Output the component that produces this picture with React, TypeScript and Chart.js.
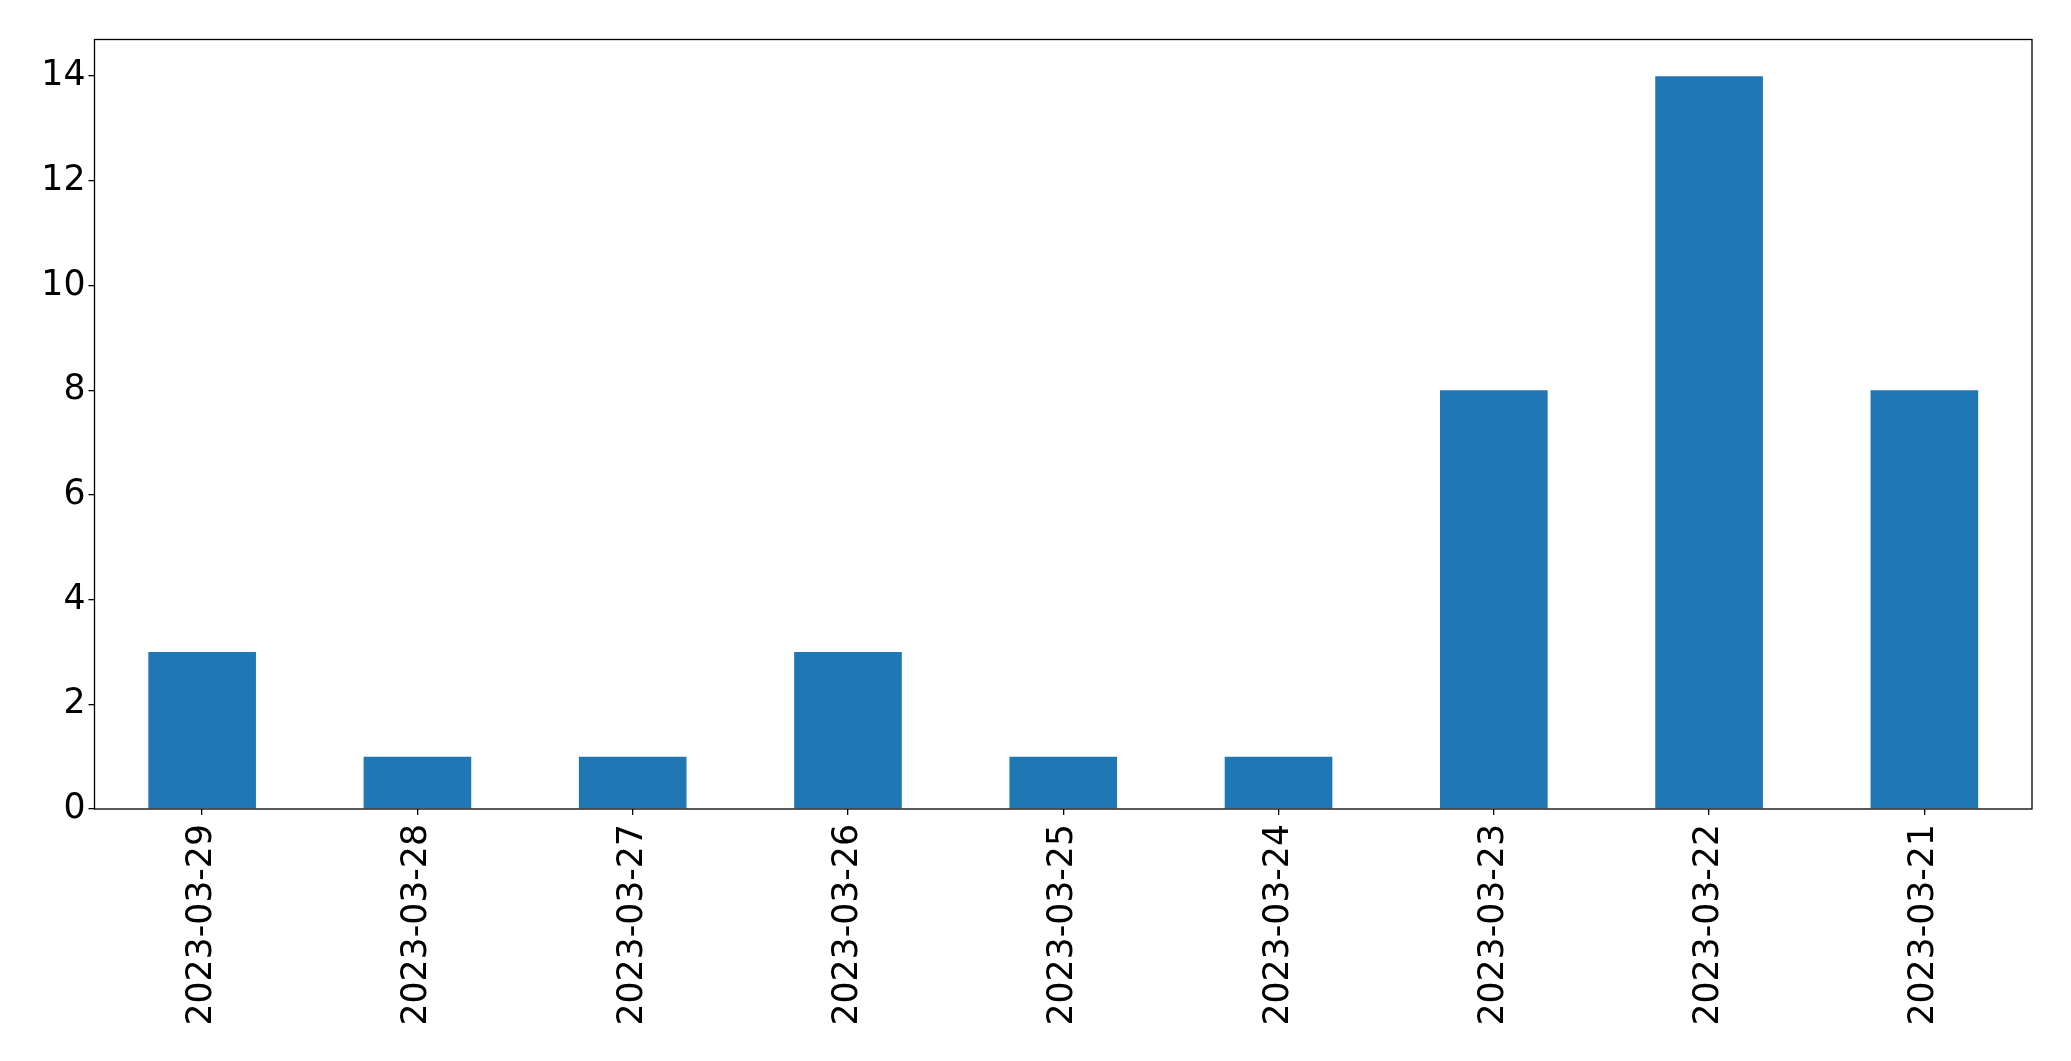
import React, { useEffect, useRef } from "react";
import { Chart, registerables } from "chart.js";

Chart.register(...registerables);

const categories = [
  "2023-03-29",
  "2023-03-28",
  "2023-03-27",
  "2023-03-26",
  "2023-03-25",
  "2023-03-24",
  "2023-03-23",
  "2023-03-22",
  "2023-03-21",
];
const counts = [3, 1, 1, 3, 1, 1, 8, 14, 8];
const yMax = 14.7;
const yStep = 2;

const W = 2071;
const H = 1061;

const framePlugin = {
  id: "frame",
  afterDraw(chart: any) {
    const { ctx, chartArea } = chart;
    ctx.save();
    ctx.strokeStyle = "#000";
    ctx.lineWidth = 1.3;
    ctx.strokeRect(chartArea.left, chartArea.top, chartArea.right - chartArea.left, chartArea.bottom - chartArea.top);
    ctx.restore();
  },
};

export default function App() {
  const ref = useRef<HTMLCanvasElement | null>(null);
  useEffect(() => {
    if (!ref.current) return;
    const font = { family: "DejaVu Sans", size: 34.7 };
    const chart = new Chart(ref.current, {
      type: "bar",
      data: {
        labels: categories,
        datasets: [
          {
            data: counts,
            backgroundColor: "#1f77b4",
            borderWidth: 0,
            barPercentage: 0.5,
            categoryPercentage: 1,
          },
        ],
      },
      plugins: [framePlugin],
      options: {
        animation: false,
        responsive: false,
        devicePixelRatio: 1,
        layout: { padding: { left: 0, top: 39.5, right: 39, bottom: 0 } },
        plugins: { legend: { display: false }, tooltip: { enabled: false } },
        scales: {
          x: {
            type: "category",
            offset: true,
            grid: { offset: false, drawOnChartArea: false, drawTicks: true, tickLength: 6, color: "#000", lineWidth: 1.3 },
            border: { display: false },
            ticks: { font, color: "#000", maxRotation: 90, minRotation: 90, padding: 9, autoSkip: false },
            afterFit: (s: any) => {
              s.height = H - 809;
            },
          },
          y: {
            min: 0,
            max: yMax,
            grid: { drawOnChartArea: false, drawTicks: true, tickLength: 6, color: "#000", lineWidth: 1.3 },
            border: { display: false },
            ticks: { font, color: "#000", stepSize: yStep, includeBounds: false, padding: 3 },
            afterFit: (s: any) => {
              s.width = 94.5;
            },
          },
        },
      },
    });
    return () => chart.destroy();
  }, []);
  return (
    <div style={{ position: "fixed", left: 0, top: 0, width: W, height: H, background: "#fff" }}>
      <canvas ref={ref} width={W} height={H} style={{ width: W, height: H, display: "block" }} />
    </div>
  );
}
